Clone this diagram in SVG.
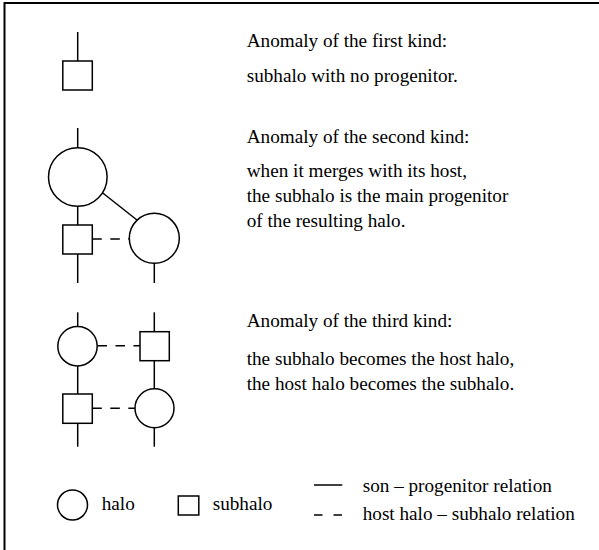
<svg xmlns="http://www.w3.org/2000/svg" width="599" height="550" viewBox="0 0 599 550">
<style>
.s{fill:none;stroke:#000;stroke-width:1.5}
.n{fill:#fff;stroke:#000;stroke-width:1.5}
.d{fill:none;stroke:#000;stroke-width:1.5;stroke-dasharray:9.5 8.5}
text{font-family:'Liberation Serif',serif;font-size:19.2px;fill:#000}
</style>
<rect x="0" y="0" width="599" height="550" fill="#fff"/>
<rect x="4.5" y="3" width="620" height="580" fill="none" stroke="#000" stroke-width="2"/>
<g id="connectors">
<line class="s" x1="77.7" y1="32" x2="77.7" y2="61"/>
<line class="s" x1="77.7" y1="128" x2="77.7" y2="148"/>
<line class="s" x1="77.7" y1="206" x2="77.7" y2="225"/>
<line class="s" x1="77.7" y1="254" x2="77.7" y2="283"/>
<line class="s" x1="101.5" y1="192" x2="139.5" y2="222"/>
<line class="s" x1="154.3" y1="263.3" x2="154.3" y2="283"/>
<line class="d" x1="92.3" y1="239" x2="129.3" y2="239"/>
<line class="s" x1="77.7" y1="312.3" x2="77.7" y2="326.5"/>
<line class="s" x1="77.7" y1="366" x2="77.7" y2="394"/>
<line class="s" x1="77.7" y1="423.3" x2="77.7" y2="446.7"/>
<line class="s" x1="154.3" y1="312.3" x2="154.3" y2="331.7"/>
<line class="s" x1="154.3" y1="360.7" x2="154.3" y2="389"/>
<line class="s" x1="154.3" y1="427.7" x2="154.3" y2="446.7"/>
<line class="d" x1="97.5" y1="345.7" x2="140" y2="345.7"/>
<line class="d" x1="92.3" y1="408.3" x2="135" y2="408.3"/>
</g>
<g id="n1-sub"><rect class="n" x="62.8" y="61" width="29.5" height="29"/></g>
<g id="n2-halo"><circle class="n" cx="77.8" cy="177" r="29.3"/></g>
<g id="n2-sub"><rect class="n" x="62.8" y="225" width="29.5" height="29"/></g>
<g id="n2-halo2"><circle class="n" cx="154.3" cy="238.3" r="25"/></g>
<g id="n3-halo"><circle class="n" cx="77.5" cy="346.2" r="19.7"/></g>
<g id="n3-sub"><rect class="n" x="62.8" y="394" width="29.5" height="29.3"/></g>
<g id="n3-sub2"><rect class="n" x="140" y="331.7" width="29.3" height="29"/></g>
<g id="n3-halo2"><circle class="n" cx="154.5" cy="408.3" r="19.5"/></g>
<g id="texts">
<text x="246.7" y="46.7">Anomaly of the first kind:</text>
<text x="246.7" y="81.7">subhalo with no progenitor.</text>
<text x="246.7" y="143">Anomaly of the second kind:</text>
<text x="246.7" y="176.7">when it merges with its host,</text>
<text x="246.7" y="201.7">the subhalo is the main progenitor</text>
<text x="246.7" y="226.7">of the resulting halo.</text>
<text x="246.7" y="326.7">Anomaly of the third kind:</text>
<text x="246.7" y="365">the subhalo becomes the host halo,</text>
<text x="246.7" y="390">the host halo becomes the subhalo.</text>
</g>
<g id="legend">
<g id="legend-halo"><circle class="n" cx="72.5" cy="505" r="15"/><text x="101.7" y="510">halo</text></g>
<g id="legend-sub"><rect class="n" x="178.3" y="496" width="20.5" height="19"/><text x="212.7" y="510">subhalo</text></g>
<g id="legend-solid"><line class="s" x1="314" y1="485" x2="342.3" y2="485"/><text x="362.7" y="491.7">son – progenitor relation</text></g>
<g id="legend-dash"><line class="s" x1="314" y1="515" x2="342.3" y2="515" stroke-dasharray="8.5 11"/><text x="362.7" y="520">host halo – subhalo relation</text></g>
</g>
</svg>
